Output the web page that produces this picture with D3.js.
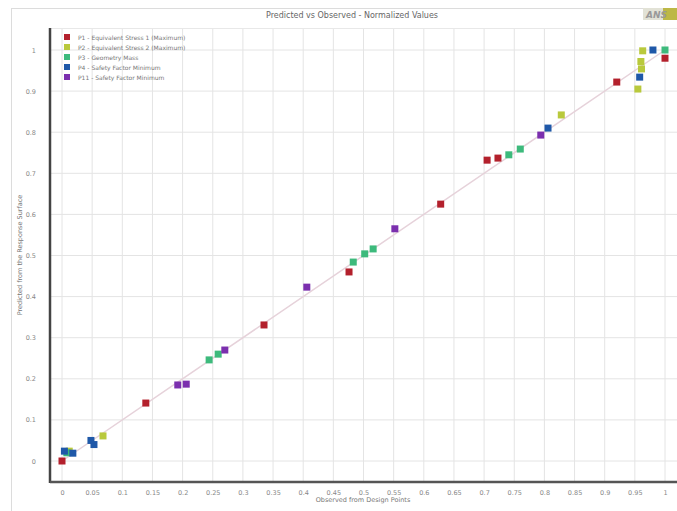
<!DOCTYPE html>
<html>
<head>
<meta charset="utf-8">
<script src="https://cdn.jsdelivr.net/npm/d3@7"></script>
<style>
  body { margin: 0; background: #fff; }
  svg { display: block; font-family: "DejaVu Sans", sans-serif; }
</style>
</head>
<body>
<div id="chart"></div>
<script>
const seriesNames = [
  "P1 - Equivalent Stress 1 (Maximum)",
  "P2 - Equivalent Stress 2 (Maximum)",
  "P3 - Geometry Mass",
  "P4 - Safety Factor Minimum",
  "P11 - Safety Factor Minimum"
];
const seriesColors = ["#b3202c", "#b9c93c", "#3dba7c", "#1f58a8", "#7b2fae"];

// [observed, predicted]
const p1Points = [[0, 0], [0.139, 0.141], [0.335, 0.331], [0.476, 0.46], [0.628, 0.625],
  [0.705, 0.732], [0.723, 0.737], [0.92, 0.922], [1.0, 0.98]];
const p2Points = [[0.068, 0.061], [0.012, 0.024], [0.828, 0.842], [0.963, 0.998],
  [0.96, 0.972], [0.961, 0.954], [0.955, 0.905]];
const p3Points = [[0.008, 0.02], [0.244, 0.246], [0.259, 0.26], [0.483, 0.484], [0.502, 0.504],
  [0.516, 0.516], [0.741, 0.745], [0.76, 0.759], [1.0, 1.0]];
const p4Points = [[0.806, 0.81], [0.053, 0.04], [0.004, 0.024], [0.018, 0.019],
  [0.958, 0.934], [0.98, 1.0], [0.048, 0.05]];
const p11Points = [[0.27, 0.27], [0.192, 0.185], [0.206, 0.187], [0.406, 0.423],
  [0.552, 0.565], [0.794, 0.793]];
const allSeries = [p1Points, p2Points, p3Points, p4Points, p11Points];

const xTicks = d3.range(0, 21).map(i => i * 0.05);
const yTicks = d3.range(0, 11).map(i => i * 0.1);

const W = 677, H = 511;
const svg = d3.select("#chart").append("svg").attr("width", W).attr("height", H);

// outer frame
svg.append("rect").attr("x", 11.5).attr("y", 8.5).attr("width", W).attr("height", H)
  .attr("fill", "none").attr("stroke", "#dcdcdc");

svg.append("text").attr("x", 352).attr("y", 18).attr("text-anchor", "middle")
  .attr("font-size", 8).attr("fill", "#666").text("Predicted vs Observed - Normalized Values");

// logo
const logo = svg.append("g").attr("transform", "translate(643,8)");
logo.append("rect").attr("width", 34).attr("height", 12).attr("fill", "#e2e2d6");
logo.append("rect").attr("x", 20).attr("width", 14).attr("height", 12).attr("fill", "#bdb846");
logo.append("text").attr("x", 3).attr("y", 10).attr("font-size", 9).attr("font-style", "italic")
  .attr("font-weight", "bold").attr("fill", "#999").text("ANS");

const x = d3.scaleLinear().domain([0, 1]).range([62, 665]);
const y = d3.scaleLinear().domain([0, 1]).range([461, 50]);
const plotL = 50, plotR = W, plotT = 28, plotB = 482;

const grid = svg.append("g");
grid.selectAll("line.v").data(xTicks).join("line")
  .attr("x1", d => x(d)).attr("x2", d => x(d)).attr("y1", plotT).attr("y2", plotB)
  .attr("stroke", "#e4e4e4");
grid.selectAll("line.h").data(yTicks).join("line")
  .attr("x1", plotL).attr("x2", plotR).attr("y1", d => y(d)).attr("y2", d => y(d))
  .attr("stroke", "#e4e4e4");
grid.append("line").attr("x1", plotL).attr("x2", plotR).attr("y1", plotT + 0.5).attr("y2", plotT + 0.5)
  .attr("stroke", "#e8e8e8");

// diagonal
svg.append("line").attr("x1", x(0)).attr("y1", y(0)).attr("x2", x(1)).attr("y2", y(1))
  .attr("stroke", "#e6d2da").attr("stroke-width", 1.5);

// axes
const xAxis = svg.append("g").attr("transform", `translate(0,${plotB})`)
  .call(d3.axisBottom(x).tickValues(xTicks).tickSize(0).tickPadding(8)
    .tickFormat(d => d3.format("~g")(+d.toFixed(2))));
const yAxis = svg.append("g").attr("transform", `translate(${plotL},0)`)
  .call(d3.axisLeft(y).tickValues(yTicks).tickSize(0).tickPadding(14)
    .tickFormat(d => d3.format("~g")(+d.toFixed(1))));
[xAxis, yAxis].forEach(a => {
  a.select(".domain").remove();
  a.selectAll("text").attr("font-size", 6.5).attr("fill", "#888").attr("font-family", "DejaVu Sans");
});
svg.append("line").attr("x1", plotL).attr("x2", plotL).attr("y1", plotT).attr("y2", plotB + 1)
  .attr("stroke", "#444").attr("stroke-width", 2.5);
svg.append("line").attr("x1", plotL).attr("x2", plotR).attr("y1", plotB).attr("y2", plotB)
  .attr("stroke", "#555").attr("stroke-width", 2.5);

svg.append("text").attr("x", 363).attr("y", 502).attr("text-anchor", "middle")
  .attr("font-size", 6.5).attr("fill", "#777").text("Observed from Design Points");
svg.append("text").attr("transform", "translate(22,255) rotate(-90)").attr("text-anchor", "middle")
  .attr("font-size", 6.5).attr("fill", "#777").text("Predicted from the Response Surface");

// points
const ms = 7;
allSeries.forEach((pts, i) => {
  svg.append("g").selectAll("rect").data(pts).join("rect")
    .attr("x", d => x(d[0]) - ms / 2).attr("y", d => y(d[1]) - ms / 2)
    .attr("width", ms).attr("height", ms)
    .attr("fill", seriesColors[i]);
});

// legend
const legend = svg.append("g").attr("transform", "translate(64,37)");
seriesNames.forEach((name, i) => {
  const g = legend.append("g").attr("transform", `translate(0,${i * 10})`);
  g.append("rect").attr("x", 0).attr("y", -3).attr("width", 6).attr("height", 6).attr("fill", seriesColors[i]);
  g.append("text").attr("x", 14).attr("y", 2.5).attr("font-size", 6).attr("fill", "#777").text(name);
});
</script>
</body>
</html>
